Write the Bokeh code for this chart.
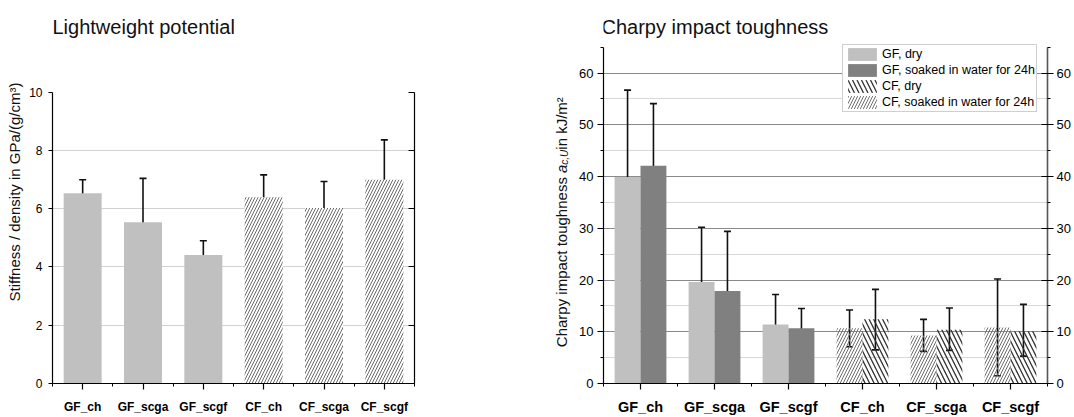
import math
from bokeh.plotting import figure
from bokeh.models import (Range1d, FixedTicker, LinearAxis, Label,
                          ColumnDataSource, Whisker, TeeHead, Legend, LegendItem)
from bokeh.layouts import row
from bokeh.embed import file_html
from bokeh.resources import INLINE

FONT = "Liberation Sans"

# ---------------- data ----------------
categories = ["GF_ch", "GF_scga", "GF_scgf", "CF_ch", "CF_scga", "CF_scgf"]
positions = [1, 2, 3, 4, 5, 6]

# Lightweight potential (stiffness / density, GPa/(g/cm3))
stiff_mean = [6.53, 5.53, 4.41, 6.39, 6.02, 6.99]
stiff_upper = [6.99, 7.04, 4.90, 7.16, 6.93, 8.36]
stiff_lower = [6.08, 4.01, 3.90, 5.61, 5.13, 5.64]

# Charpy impact toughness (kJ/m2)
charpy_dry = [39.9, 19.6, 11.4, 10.7, 9.3, 10.8]
charpy_dry_upper = [56.7, 30.2, 17.2, 14.2, 12.4, 20.2]
charpy_dry_lower = [22.7, 8.8, 5.4, 7.1, 6.2, 1.5]
charpy_wet = [42.1, 17.9, 10.7, 12.4, 10.4, 10.1]
charpy_wet_upper = [54.1, 29.4, 14.5, 18.2, 14.6, 15.3]
charpy_wet_lower = [30.1, 6.3, 6.9, 6.5, 6.4, 5.3]

left_ticks = [0, 2, 4, 6, 8, 10]
left_grid = [2, 4, 6, 8]
right_ticks = [0, 10, 20, 30, 40, 50, 60]
right_minor = [5, 15, 25, 35, 45, 55, 65]
right_grid = [10, 20, 30, 40, 50, 60]
right_minor_grid = [5, 15, 25, 35, 45, 55]
cat_minor = [0.5, 1.5, 2.5, 3.5, 4.5, 5.5, 6.5]
legend_labels = ["GF, dry", "GF, soaked in water for 24h",
                 "CF, dry", "CF, soaked in water for 24h"]

GF_LIGHT = "#c0c0c0"
GF_DARK = "#808080"

# frames span from the canvas top (y=0) down to y=383; the visible axes are bounded
FRAME_BOTTOM = 34
LEFT_MAX, LEFT_TOP_PX = 10, 291.4      # value 10 sits 291.4 px above the baseline
RIGHT_MAX, RIGHT_TOP_PX = 65, 336.3    # value 65 sits 336.3 px above the baseline
FRAME_H = 417 - FRAME_BOTTOM
left_end = LEFT_MAX * FRAME_H / LEFT_TOP_PX
right_end = RIGHT_MAX * FRAME_H / RIGHT_TOP_PX


def style_axis(ax, size):
    ax.axis_line_color = "black"
    ax.axis_line_width = 1.2
    ax.major_tick_line_color = "black"
    ax.minor_tick_line_color = "black"
    ax.major_tick_line_width = 1.2
    ax.minor_tick_line_width = 1.0
    ax.major_label_text_font = FONT
    ax.major_label_text_font_size = size
    ax.major_label_text_color = "black"


def err(p, xs, up, lo, cap):
    src = ColumnDataSource(dict(x=xs, upper=up, lower=lo))
    w = Whisker(base="x", upper="upper", lower="lower", source=src,
                dimension="height", line_color="#111111", line_width=1.6,
                upper_head=TeeHead(size=cap, line_color="#111111", line_width=1.6),
                lower_head=TeeHead(size=cap, line_color="#111111", line_width=1.6))
    p.add_layout(w)


# ---------------- left chart ----------------
p1 = figure(width=545, height=417, min_border_left=52, min_border_right=131,
            min_border_top=0, min_border_bottom=FRAME_BOTTOM,
            x_range=Range1d(0.5, 6.5), y_range=Range1d(0, left_end),
            output_backend="svg", toolbar_location=None)
p1.outline_line_color = None
p1.xgrid.visible = False
p1.yaxis.ticker = FixedTicker(ticks=left_ticks, minor_ticks=[])
p1.yaxis.bounds = (0, LEFT_MAX)
p1.ygrid.ticker = FixedTicker(ticks=left_grid, minor_ticks=[])
p1.ygrid.grid_line_color = "#d2d2d2"
p1.ygrid.grid_line_width = 1.2
style_axis(p1.yaxis[0], "12px")
p1.yaxis.major_tick_out = 4
p1.yaxis.major_tick_in = 0
p1.yaxis.major_label_standoff = 6
p1.yaxis.axis_label = "Stiffness / density in GPa/(g/cm³)"
p1.yaxis.axis_label_text_font = FONT
p1.yaxis.axis_label_text_font_size = "15px"
p1.yaxis.axis_label_text_font_style = "normal"
p1.yaxis.axis_label_text_color = "#111111"
p1.yaxis.axis_label_standoff = 3

p1.xaxis.ticker = FixedTicker(ticks=positions, minor_ticks=cat_minor)
p1.xaxis.major_label_overrides = dict(zip(positions, categories))
style_axis(p1.xaxis[0], "12px")
p1.xaxis.major_label_text_font_style = "bold"
p1.xaxis.major_label_standoff = 10
p1.xaxis.major_tick_out = 6
p1.xaxis.major_tick_in = 0
p1.xaxis.minor_tick_out = 3
p1.xaxis.minor_tick_in = 0

rax1 = LinearAxis(ticker=FixedTicker(ticks=left_ticks, minor_ticks=[]),
                  major_label_overrides={t: "" for t in left_ticks},
                  bounds=(0, LEFT_MAX))
style_axis(rax1, "12px")
rax1.major_tick_in = 6
rax1.major_tick_out = 0
p1.add_layout(rax1, "right")

p1.vbar(x=positions[:3], top=stiff_mean[:3], width=0.63,
        fill_color=GF_LIGHT, line_color=None)
p1.vbar(x=positions[3:], top=stiff_mean[3:], width=0.63,
        fill_color="white", line_color=None,
        hatch_pattern="/", hatch_color="#6a6a6a", hatch_scale=6, hatch_weight=1)
err(p1, positions, stiff_upper, stiff_lower, 7)

p1.add_layout(Label(x=0.5, y=LEFT_MAX, x_offset=0, y_offset=65.6,
                    text="Lightweight potential", text_align="left",
                    text_baseline="alphabetic", text_font=FONT,
                    text_font_size="20px", text_color="#111111"))

# ---------------- strip holding the right chart's y-axis title ----------------
pl = figure(width=31, height=417, min_border_left=0, min_border_right=0,
            min_border_top=0, min_border_bottom=FRAME_BOTTOM,
            x_range=Range1d(0, 31), y_range=Range1d(0, right_end),
            x_axis_location=None, y_axis_location=None,
            output_backend="svg", toolbar_location=None)
pl.outline_line_color = None
pl.grid.visible = False
ylab_parts = [("Charpy impact toughness ", "15px", "normal", 36.3, 0),
              ("a", "15px", "italic", 210.5, 0),
              ("c,U", "10px", "italic", 218.8, 3),
              (" in kJ/m²", "15px", "normal", 233.8, 0)]
for txt, fs, st, yo, xo in ylab_parts:
    pl.add_layout(Label(x=15.5, y=0, x_offset=xo, y_offset=yo, text=txt,
                        angle=math.pi / 2, text_align="left", text_baseline="middle",
                        text_font=FONT, text_font_size=fs, text_font_style=st,
                        text_color="#111111"))

# ---------------- right chart ----------------
p2 = figure(width=498, height=417, min_border_left=26, min_border_right=27,
            min_border_top=0, min_border_bottom=FRAME_BOTTOM,
            x_range=Range1d(0.5, 6.5), y_range=Range1d(0, right_end),
            output_backend="svg", toolbar_location=None)
p2.outline_line_color = None
p2.xgrid.visible = False
p2.yaxis.ticker = FixedTicker(ticks=right_ticks, minor_ticks=right_minor)
p2.yaxis.bounds = (0, RIGHT_MAX)
p2.ygrid.ticker = FixedTicker(ticks=right_grid, minor_ticks=right_minor_grid)
p2.ygrid.grid_line_color = "#8a8a8a"
p2.ygrid.grid_line_width = 1.2
p2.ygrid.minor_grid_line_color = "#d8d8d8"
p2.ygrid.minor_grid_line_width = 1.2
style_axis(p2.yaxis[0], "13px")
p2.yaxis.major_tick_out = 6
p2.yaxis.major_tick_in = 0
p2.yaxis.minor_tick_out = 3
p2.yaxis.minor_tick_in = 0
p2.yaxis.major_label_standoff = 4

p2.xaxis.ticker = FixedTicker(ticks=positions, minor_ticks=cat_minor)
p2.xaxis.major_label_overrides = dict(zip(positions, categories))
style_axis(p2.xaxis[0], "14.5px")
p2.xaxis.major_label_text_font_style = "bold"
p2.xaxis.major_label_standoff = 9
p2.xaxis.major_tick_out = 6
p2.xaxis.major_tick_in = 0
p2.xaxis.minor_tick_out = 3
p2.xaxis.minor_tick_in = 0

rax2 = LinearAxis(ticker=FixedTicker(ticks=right_ticks, minor_ticks=right_minor),
                  bounds=(0, RIGHT_MAX))
style_axis(rax2, "13px")
rax2.axis_line_color = "#555555"
rax2.axis_line_width = 1.6
rax2.major_tick_in = 6
rax2.major_tick_out = 6
rax2.minor_tick_in = 0
rax2.minor_tick_out = 3
rax2.major_label_standoff = 3
p2.add_layout(rax2, "right")

dry_x = [x - 0.175 for x in positions]
wet_x = [x + 0.175 for x in positions]

r_gf_dry = p2.vbar(x=dry_x[:3], top=charpy_dry[:3], width=0.35,
                   fill_color=GF_LIGHT, line_color=None)
r_gf_wet = p2.vbar(x=wet_x[:3], top=charpy_wet[:3], width=0.35,
                   fill_color=GF_DARK, line_color=None)
p2.vbar(x=dry_x[3:], top=charpy_dry[3:], width=0.35, fill_alpha=0, line_color=None,
        hatch_pattern="/", hatch_color="#6e6e6e", hatch_scale=6, hatch_weight=1)
p2.vbar(x=wet_x[3:], top=charpy_wet[3:], width=0.35, fill_alpha=0, line_color=None,
        hatch_pattern="\\", hatch_color="#333333", hatch_scale=9, hatch_weight=1.3)
# legend-only swatches (zero-width copies, styled as in the original legend)
l_cf_dry = p2.vbar(x=dry_x[3:], top=charpy_dry[3:], width=0, fill_alpha=0, line_color=None,
                   hatch_pattern="\\", hatch_color="#333333", hatch_scale=9, hatch_weight=1.3)
l_cf_wet = p2.vbar(x=wet_x[3:], top=charpy_wet[3:], width=0, fill_alpha=0, line_color=None,
                   hatch_pattern="/", hatch_color="#6e6e6e", hatch_scale=6, hatch_weight=1)

err(p2, dry_x, charpy_dry_upper, charpy_dry_lower, 7)
err(p2, wet_x, charpy_wet_upper, charpy_wet_lower, 7)

legend = Legend(items=[LegendItem(label=legend_labels[0], renderers=[r_gf_dry]),
                       LegendItem(label=legend_labels[1], renderers=[r_gf_wet]),
                       LegendItem(label=legend_labels[2], renderers=[l_cf_dry]),
                       LegendItem(label=legend_labels[3], renderers=[l_cf_wet])],
                location=(239, 271), orientation="vertical",
                border_line_color="#a0a0a0", border_line_width=1,
                background_fill_color="white", background_fill_alpha=1,
                glyph_width=36, glyph_height=16, label_height=16,
                label_text_font=FONT, label_text_font_size="12.5px",
                label_text_color="black", label_standoff=2,
                spacing=0, padding=1, margin=0)
p2.add_layout(legend)

p2.add_layout(Label(x=0.5, y=RIGHT_MAX, x_offset=-2, y_offset=20.7,
                    text="Charpy impact toughness", text_align="left",
                    text_baseline="alphabetic", text_font=FONT,
                    text_font_size="20px", text_color="#111111"))

layout = row(p1, pl, p2)
open("out.html", "w").write(file_html(layout, INLINE))
